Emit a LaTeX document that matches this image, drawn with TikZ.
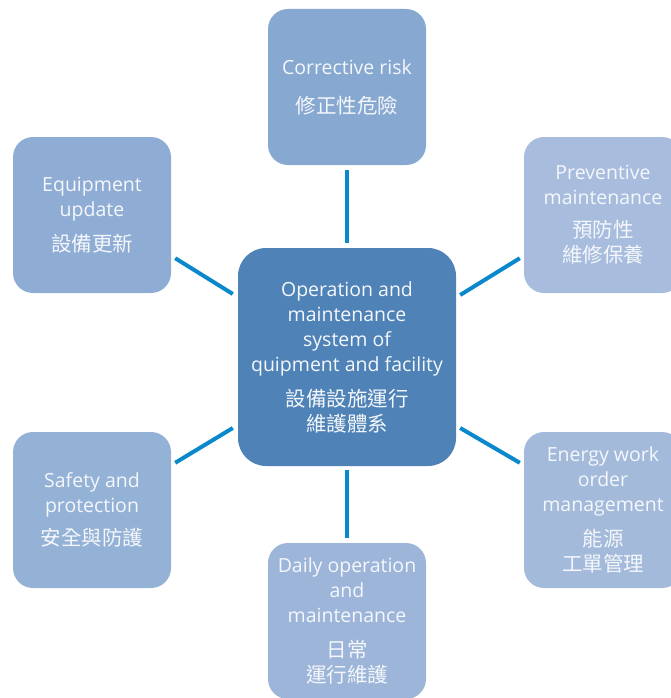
\documentclass[tikz,border=0pt]{standalone}
\usepackage{fontspec}
\setmainfont{Open Sans}
\newfontfamily\cjk{Noto Sans CJK TC}
\usetikzlibrary{calc}
\definecolor{cmain}{HTML}{4F82B6}
\definecolor{ctop}{HTML}{87A8D0}
\definecolor{cequip}{HTML}{8FADD4}
\definecolor{cprev}{HTML}{A8BDDD}
\definecolor{cenergy}{HTML}{A4BADA}
\definecolor{cdaily}{HTML}{9DB5D9}
\definecolor{csafe}{HTML}{94B1D6}
\definecolor{cline}{HTML}{0A88CC}
\definecolor{ctext}{HTML}{F4F7FB}
\newcommand{\zhf}{\fontsize{20.5}{25}\selectfont\cjk}
\tikzset{
  outer/.style={rounded corners=20pt, minimum width=158pt, minimum height=156pt, inner sep=0pt, align=center, text=ctext, font=\fontsize{19.5}{25}\selectfont},
  mainbox/.style={rounded corners=28pt, fill=cmain, minimum width=218pt, minimum height=218pt, inner sep=0pt, align=center, text=ctext, font=\fontsize{19.5}{25}\selectfont},
  conn/.style={draw=cline, line width=4pt}
}
\begin{document}
\begin{tikzpicture}[x=1pt,y=-1pt]
\useasboundingbox (0,0) rectangle (671,698);
\clip (0,0) rectangle (671,698);
\node[mainbox] (c) at (347,357) {Operation and\\maintenance\\system of\\quipment and facility\\[10pt]\zhf 設備設施運行\\\zhf 維護體系};
\node[outer, fill=ctop] (top) at (347,87) {Corrective risk\\[14pt]\zhf 修正性危險};
\node[outer, fill=cequip] (eq) at (92,215) {Equipment\\update\\[10pt]\zhf 設備更新};
\node[outer, fill=cprev] (prev) at (603,215) {Preventive\\maintenance\\[8pt]\zhf 預防性\\\zhf 維修保養};
\node[outer, fill=csafe] (safe) at (92,510) {Safety and\\protection\\[8pt]\zhf 安全與防護};
\node[outer, fill=cenergy] (energy) at (603,510) {Energy work\\order\\management\\[10pt]\zhf 能源\\\zhf 工單管理};
\node[outer, fill=cdaily] (daily) at (347,621) {Daily operation\\and\\maintenance\\[10pt]\zhf 日常\\\zhf 運行維護};
\draw[conn] ($(top.south)+(0,5)$) -- ($(c.north)+(0,-5)$);
\draw[conn] ($(c.south)+(0,4)$) -- ($(daily.north)+(0,-5)$);
\draw[conn] ($(eq.south east)+(4,-35)$) -- ($(c.west)+(-5,-63)$);
\draw[conn] ($(c.east)+(4,-62)$) -- ($(prev.south west)+(-4,-35)$);
\draw[conn] ($(safe.north east)+(4,31)$) -- ($(c.west)+(-5,71)$);
\draw[conn] ($(c.east)+(4,71)$) -- ($(energy.north west)+(-4,31)$);
\end{tikzpicture}
\end{document}
